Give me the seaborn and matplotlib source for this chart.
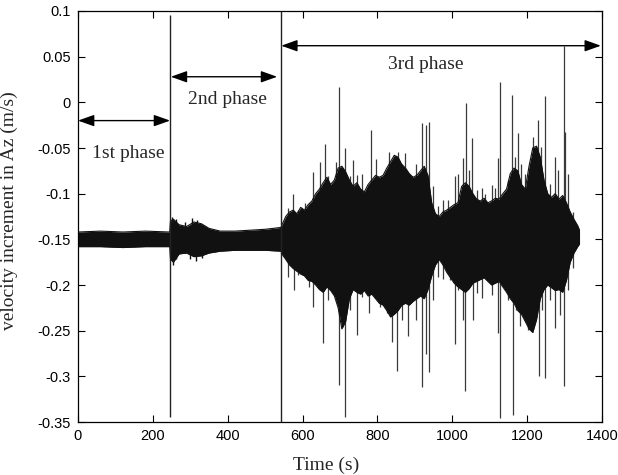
import numpy as np
import pandas as pd
import matplotlib
matplotlib.use("Agg")
import matplotlib.pyplot as plt
import seaborn as sns

# ---------------- data ----------------
# quiet part (1st and 2nd phase): envelope of the signal
quiet_t  = [0, 60, 120, 180, 245, 247, 255, 270, 290, 310, 330, 350, 380, 420, 460, 500, 542]
quiet_hi = [-0.142, -0.141, -0.142, -0.141, -0.142, -0.130, -0.128, -0.134, -0.136, -0.131,
            -0.133, -0.138, -0.141, -0.141, -0.140, -0.139, -0.137]
quiet_lo = [-0.158, -0.158, -0.159, -0.158, -0.158, -0.172, -0.175, -0.166, -0.165, -0.169,
            -0.168, -0.165, -0.163, -0.162, -0.162, -0.162, -0.163]
quiet_up_t = [252, 262, 285, 305, 318]
quiet_up_v = [-0.125, -0.128, -0.131, -0.127, -0.129]
quiet_dn_t = [254, 262, 300, 315, 330]
quiet_dn_v = [-0.178, -0.172, -0.172, -0.174, -0.170]

# active part (3rd phase): envelope of the dense signal
act_t = [543, 555, 565, 575, 585, 595, 605, 615, 625, 635, 645, 655, 665, 675, 685, 695, 705,
         715, 725, 735, 745, 755, 765, 775, 785, 795, 805, 815, 825, 835, 845, 855, 865, 875,
         885, 895, 905, 915, 925, 935, 945, 955, 965, 975, 985, 995, 1005, 1015, 1025, 1035,
         1045, 1055, 1065, 1075, 1085, 1095, 1105, 1115, 1125, 1135, 1145, 1155, 1165, 1175,
         1185, 1195, 1205, 1215, 1225, 1235, 1245, 1255, 1265, 1275, 1285, 1295, 1305, 1315,
         1325, 1335, 1340]
act_hi = [-0.136, -0.125, -0.120, -0.118, -0.122, -0.115, -0.118, -0.112, -0.108, -0.100,
          -0.095, -0.088, -0.082, -0.090, -0.085, -0.072, -0.070, -0.076, -0.085, -0.092,
          -0.088, -0.095, -0.098, -0.090, -0.085, -0.080, -0.082, -0.080, -0.072, -0.065,
          -0.058, -0.060, -0.068, -0.072, -0.078, -0.082, -0.080, -0.075, -0.070, -0.080,
          -0.110, -0.122, -0.125, -0.120, -0.118, -0.115, -0.112, -0.110, -0.092, -0.088,
          -0.092, -0.100, -0.106, -0.108, -0.105, -0.110, -0.108, -0.105, -0.106, -0.100,
          -0.095, -0.078, -0.072, -0.075, -0.090, -0.095, -0.070, -0.050, -0.048, -0.060,
          -0.085, -0.100, -0.104, -0.100, -0.106, -0.102, -0.110, -0.120, -0.128, -0.135,
          -0.140]
act_lo = [-0.165, -0.172, -0.178, -0.182, -0.185, -0.188, -0.190, -0.195, -0.196, -0.200,
          -0.205, -0.208, -0.202, -0.206, -0.212, -0.225, -0.248, -0.240, -0.215, -0.205,
          -0.208, -0.210, -0.206, -0.212, -0.210, -0.215, -0.220, -0.222, -0.228, -0.235,
          -0.232, -0.228, -0.222, -0.220, -0.222, -0.218, -0.215, -0.212, -0.215, -0.205,
          -0.190, -0.178, -0.172, -0.178, -0.186, -0.192, -0.198, -0.202, -0.205, -0.208,
          -0.204, -0.198, -0.196, -0.194, -0.192, -0.196, -0.200, -0.198, -0.196, -0.202,
          -0.208, -0.215, -0.220, -0.228, -0.232, -0.240, -0.248, -0.252, -0.238, -0.215,
          -0.205, -0.200, -0.203, -0.206, -0.205, -0.208, -0.195, -0.175, -0.165, -0.158,
          -0.155]

# isolated spikes of the 3rd phase: time (s) and peak value (m/s)
up_t = [562, 575, 587, 607, 618, 628, 641, 647, 660, 669, 678, 689, 698, 705, 714, 727, 735,
        746, 759, 772, 783, 797, 810, 821, 831, 842, 855, 866, 874, 888, 904, 919, 930, 938,
        949, 963, 976, 989, 1008, 1016, 1029, 1037, 1045, 1053, 1066, 1080, 1088, 1106, 1115,
        1123, 1128, 1141, 1150, 1160, 1168, 1176, 1184, 1195, 1203, 1216, 1229, 1238, 1248,
        1262, 1275, 1283, 1299, 1302, 1310, 1323]
up_v = [-0.116, -0.100, -0.118, -0.110, -0.116, -0.076, -0.100, -0.065, -0.046, -0.081,
        -0.103, -0.065, 0.017, -0.072, -0.050, -0.081, -0.063, -0.080, -0.078, -0.100,
        -0.030, -0.062, -0.096, -0.092, -0.054, -0.070, -0.054, -0.067, -0.056, -0.085,
        -0.067, -0.023, -0.025, -0.021, -0.092, -0.114, -0.107, -0.107, -0.081, -0.078,
        -0.061, -0.001, -0.074, -0.039, -0.096, -0.094, -0.100, -0.091, -0.094, -0.061,
        0.022, -0.100, -0.085, 0.008, -0.060, -0.034, -0.067, -0.078, -0.081, -0.038,
        -0.019, -0.049, 0.007, -0.089, -0.060, -0.074, 0.062, -0.032, -0.078, -0.120]
dn_t = [562, 577, 588, 618, 628, 641, 655, 669, 678, 698, 714, 727, 745, 759, 778, 797, 808,
        826, 839, 852, 866, 882, 904, 919, 930, 938, 949, 963, 976, 994, 1007, 1016, 1029,
        1035, 1055, 1066, 1080, 1106, 1123, 1128, 1150, 1162, 1171, 1181, 1195, 1203, 1232,
        1240, 1248, 1262, 1275, 1288, 1299, 1310, 1323]
dn_v = [-0.191, -0.205, -0.189, -0.202, -0.224, -0.202, -0.264, -0.216, -0.195, -0.310,
        -0.344, -0.227, -0.255, -0.213, -0.231, -0.213, -0.224, -0.231, -0.262, -0.294,
        -0.238, -0.256, -0.238, -0.312, -0.276, -0.295, -0.216, -0.191, -0.193, -0.195,
        -0.265, -0.205, -0.238, -0.316, -0.238, -0.209, -0.214, -0.211, -0.253, -0.346,
        -0.216, -0.342, -0.227, -0.245, -0.238, -0.249, -0.300, -0.227, -0.302, -0.216,
        -0.247, -0.233, -0.311, -0.205, -0.181]

# phase boundary lines: time, bottom, top
bound_t   = [246, 543]
bound_lo  = [-0.344, -0.35]
bound_hi  = [0.096, 0.10]

# phase arrows and labels
phase_names  = ["1st phase", "2nd phase", "3rd phase"]
arrow_start  = [0, 248, 543]
arrow_end    = [246, 532, 1397]
arrow_level  = [-0.020, 0.028, 0.062]
label_x      = [134, 399, 928]
label_y      = [-0.056, 0.003, 0.041]

xticks = [0, 200, 400, 600, 800, 1000, 1200, 1400]
yticks = [0.1, 0.05, 0, -0.05, -0.1, -0.15, -0.2, -0.25, -0.3, -0.35]
ytick_labels = ["0.1", "0.05", "0", "-0.05", "-0.1", "-0.15", "-0.2", "-0.25", "-0.3", "-0.35"]

# ---------------- drawing ----------------
sns.set_theme(style="ticks")
plt.rcParams["font.family"] = ["Liberation Serif", "DejaVu Serif"]
plt.rcParams["axes.unicode_minus"] = False

fig = plt.figure(figsize=(6.18, 4.75), dpi=100)
ax = fig.add_axes([78 / 618, 1 - 422 / 475, 524 / 618, 411 / 475])

col = "#111111"
spike_col = "#3a3a3a"
# spikes first, so the dense body covers their inner part
ax.vlines(quiet_up_t, -0.15, quiet_up_v, color=col, lw=1.0, zorder=1)
ax.vlines(quiet_dn_t, -0.15, quiet_dn_v, color=col, lw=1.0, zorder=1)
ax.vlines(up_t, -0.15, up_v, color=spike_col, lw=0.9, zorder=1)
ax.vlines(dn_t, -0.15, dn_v, color=spike_col, lw=0.9, zorder=1)

env = pd.concat([
    pd.DataFrame({"t": quiet_t, "hi": quiet_hi, "lo": quiet_lo, "part": "quiet"}),
    pd.DataFrame({"t": act_t, "hi": act_hi, "lo": act_lo, "part": "active"}),
])
for part, d in env.groupby("part", sort=False):
    ax.fill_between(d["t"], d["lo"], d["hi"], color=col, lw=0, zorder=2)
    sns.lineplot(data=d, x="t", y="hi", ax=ax, color=col, lw=0.8, legend=False, zorder=2)
    sns.lineplot(data=d, x="t", y="lo", ax=ax, color=col, lw=0.8, legend=False, zorder=2)

ax.vlines(bound_t, bound_lo, bound_hi, color="#222222", lw=1.0, zorder=3)

for s, e, lvl in zip(arrow_start, arrow_end, arrow_level):
    ax.annotate("", xy=(e, lvl), xytext=(s, lvl),
                arrowprops=dict(arrowstyle="<|-|>,head_length=0.7,head_width=0.25",
                                color="black", lw=1.0, shrinkA=0, shrinkB=0,
                                mutation_scale=14))
for name, x, y in zip(phase_names, label_x, label_y):
    ax.text(x, y, name, ha="center", va="center", fontsize=14,
            family=["Liberation Serif"])

ax.set_xlim(0, 1400)
ax.set_ylim(-0.35, 0.1)
ax.set_xticks(xticks)
ax.set_xticklabels([str(v) for v in xticks], family=["Liberation Sans"], fontsize=10.5)
ax.set_yticks(yticks)
ax.set_yticklabels(ytick_labels, family=["Liberation Sans"], fontsize=10.5)
ax.tick_params(direction="in", length=5, width=0.8, top=True, right=True,
               colors="black", pad=5)
for sp in ax.spines.values():
    sp.set_visible(True)
    sp.set_color("black")
    sp.set_linewidth(0.9)

ax.set_xlabel("Time (s)", fontsize=14, family=["Liberation Serif"])
ax.set_ylabel("velocity increment in Az (m/s)", fontsize=14, family=["Liberation Serif"])
ax.xaxis.set_label_coords(0.473, -0.085)
ax.yaxis.set_label_coords(-0.115, 0.515)

fig.savefig("out.png", dpi=100)
